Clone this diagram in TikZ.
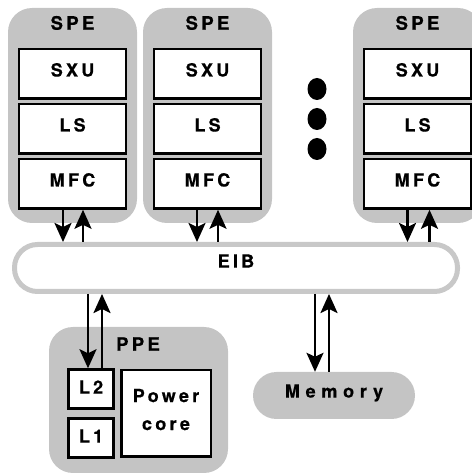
\documentclass[tikz,border=0pt]{standalone}
\usepackage{fontspec}
\usetikzlibrary{positioning,arrows.meta,shapes.geometric}
\newfontfamily\cellfont{texgyreheros-bold}[Extension=.otf, LetterSpace=18, FakeBold=0.6]
\newfontfamily\memfont{texgyreheros-bold}[Extension=.otf, LetterSpace=32, FakeBold=0.6]
\definecolor{cellgray}{RGB}{196,196,196}
\definecolor{busgray}{RGB}{200,200,200}
\tikzset{
  spe/.style={fill=cellgray, rounded corners=24pt, minimum width=129pt, minimum height=215pt},
  title/.style={font=\cellfont\fontsize{18.5}{21}\selectfont, inner sep=0pt},
  unit/.style={draw, line width=2.5pt, fill=white, minimum width=107pt, minimum height=49.5pt,
    text depth=8pt, font=\cellfont\fontsize{18}{20}\selectfont},
  small/.style={unit, minimum width=45pt, minimum height=39pt, text depth=4pt},
  dot/.style={ellipse, fill=black, minimum width=19pt, minimum height=22pt, inner sep=0pt},
  flow/.style={draw, line width=2.6pt, -{Stealth[length=19pt,width=17pt,inset=4pt]}}
}
\begin{document}
\begin{tikzpicture}[x=1pt,y=1pt]
  \useasboundingbox (0,0) rectangle (472,475);
  \node [spe] (spe1) at (72.5,359.5) {};
  \node [spe] (spe2) at (207.5,359.5) {};
  \node [spe] (spe3) at (417.5,359.5) {};
  \node [title, below=8pt of spe1.north] (t1) {SPE};
  \node [title, below=8pt of spe2.north] (t2) {SPE};
  \node [title, below=8pt of spe3.north] (t3) {SPE};
  \node [unit, below=40pt of spe1.north] (sxu1) {SXU};
  \node [unit, below=3pt of sxu1] (ls1) {LS};
  \node [unit, below=3pt of ls1] (mfc1) {MFC};
  \node [unit, below=40pt of spe2.north] (sxu2) {SXU};
  \node [unit, below=3pt of sxu2] (ls2) {LS};
  \node [unit, below=3pt of ls2] (mfc2) {MFC};
  \node [unit, below=40pt of spe3.north] (sxu3) {SXU};
  \node [unit, below=3pt of sxu3] (ls3) {LS};
  \node [unit, below=3pt of ls3] (mfc3) {MFC};
  \node [dot] (d1) at (317,386) {};
  \node [dot] (d2) at (317,356) {};
  \node [dot] (d3) at (317,326) {};
  \node [draw=busgray, line width=5pt, rounded corners=23pt, minimum width=443pt, minimum height=47pt,
    text depth=14pt, font=\cellfont\fontsize{18}{20}\selectfont] (eib) at (236,207) {EIB};
  \node [fill=cellgray, rounded corners=24pt, minimum width=179pt, minimum height=146pt] (ppe) at (138.5,75) {};
  \node [title] (tppe) at (138,131) {PPE};
  \node [small] (l2) at (91,86) {L2};
  \node [small] (l1) at (91,37) {L1};
  \node [unit, minimum width=89.5pt, minimum height=86.5pt, align=center, text depth=8pt,
    font=\cellfont\fontsize{18}{28}\selectfont] (core) at (166,61.5) {Power\\core};
  \node [fill=cellgray, rounded corners=23.5pt, minimum width=162pt, minimum height=47pt,
    text depth=9pt, font=\memfont\fontsize{18}{20}\selectfont] (mem) at (334,79.5) {Memory};
  \draw [flow] ([xshift=-9.5pt]mfc1.south) -- ([xshift=-9.5pt]mfc1.south |- eib.north);
  \draw [flow] ([xshift=10.5pt]mfc1.south |- eib.north) -- ([xshift=10.5pt]mfc1.south);
  \draw [flow] ([xshift=-10.5pt]mfc2.south) -- ([xshift=-10.5pt]mfc2.south |- eib.north);
  \draw [flow] ([xshift=10.5pt]mfc2.south |- eib.north) -- ([xshift=10.5pt]mfc2.south);
  \draw [flow] ([xshift=-10pt]mfc3.south) -- ([xshift=-10pt]mfc3.south |- eib.north);
  \draw [flow] ([xshift=12pt]mfc3.south |- eib.north) -- ([xshift=12pt]mfc3.south);
  \draw [flow] ([xshift=-3pt]l2.north |- eib.south) -- ([xshift=-3pt]l2.north);
  \draw [flow] ([xshift=11pt]l2.north) -- ([xshift=11pt]l2.north |- eib.south);
  \draw [flow] ([xshift=-19pt]mem.north |- eib.south) -- ([xshift=-19pt]mem.north);
  \draw [flow] ([xshift=-5pt]mem.north) -- ([xshift=-5pt]mem.north |- eib.south);
\end{tikzpicture}
\end{document}
